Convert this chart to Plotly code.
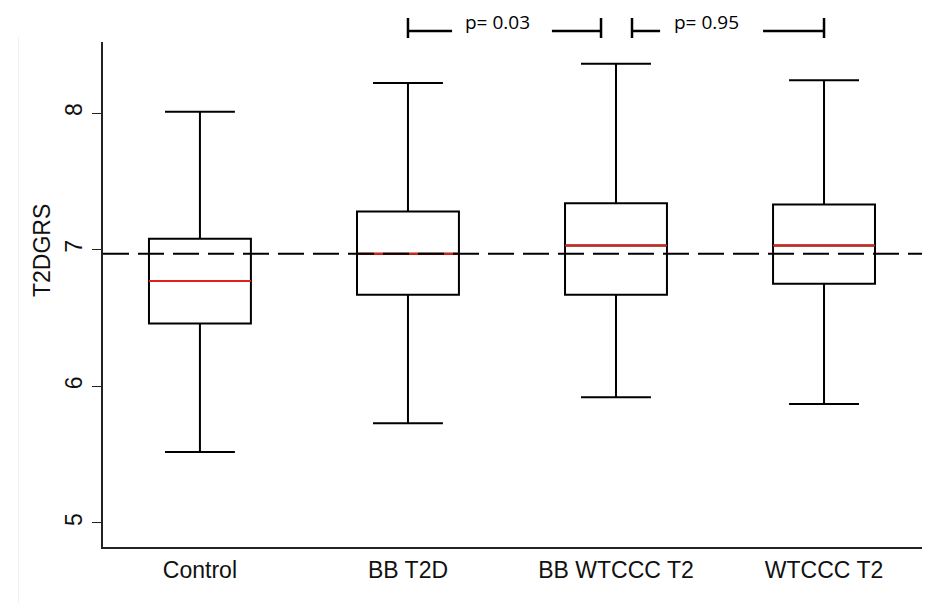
import plotly.graph_objects as go

# ---- data ----
categories = ["Control", "BB T2D", "BB WTCCC T2", "WTCCC T2"]
upper_whisker = [8.01, 8.22, 8.36, 8.24]
q3_values = [7.08, 7.28, 7.34, 7.33]
medians = [6.77, 6.97, 7.03, 7.03]
q1_values = [6.46, 6.67, 6.67, 6.75]
lower_whisker = [5.52, 5.73, 5.92, 5.87]
reference_value = 6.97

y_tick_values = [5, 6, 7, 8]
y_title = "T2DGRS"

p_labels = ["p= 0.03", "p= 0.95"]
bracket_start = [1.0, 2.077]
bracket_end = [1.928, 3.0]
gap_start = [1.212, 2.212]
gap_end = [1.692, 2.707]
label_x = [1.428, 2.433]

# ---- styling / layout constants ----
BOX_W = 0.49
FONT = "Liberation Sans, Arial, sans-serif"

fig = go.Figure()

for i, cat in enumerate(categories):
    fig.add_trace(go.Box(
        x=[i], q1=[q1_values[i]], median=[medians[i]], q3=[q3_values[i]],
        lowerfence=[lower_whisker[i]], upperfence=[upper_whisker[i]],
        name=cat, width=BOX_W, whiskerwidth=0.686,
        fillcolor="white", line=dict(color="black", width=2),
        boxpoints=False, showlegend=False, hoverinfo="skip",
    ))

# red median lines
for i in range(len(categories)):
    fig.add_trace(go.Scatter(
        x=[i - BOX_W / 2, i + BOX_W / 2], y=[medians[i], medians[i]],
        mode="lines", line=dict(color="#e0201b", width=2),
        showlegend=False, hoverinfo="skip",
    ))

shapes = []
# dashed reference line
shapes.append(dict(type="line", xref="paper", yref="y", x0=0, x1=1,
                   y0=reference_value, y1=reference_value,
                   line=dict(color="black", width=2, dash="26px,9px"),
                   layer="above"))

# comparison brackets
y_line = 1.0218
y_tick_top = 1.0475
y_tick_bot = 1.0079
for k in range(len(p_labels)):
    seg = dict(type="line", xref="x", yref="paper", line=dict(color="black", width=2.5))
    shapes.append({**seg, "x0": bracket_start[k], "x1": gap_start[k], "y0": y_line, "y1": y_line})
    shapes.append({**seg, "x0": gap_end[k], "x1": bracket_end[k], "y0": y_line, "y1": y_line})
    shapes.append({**seg, "x0": bracket_start[k], "x1": bracket_start[k], "y0": y_tick_bot, "y1": y_tick_top})
    shapes.append({**seg, "x0": bracket_end[k], "x1": bracket_end[k], "y0": y_tick_bot, "y1": y_tick_top})

# faint left border artifact
shapes.append(dict(type="line", xref="paper", yref="paper", x0=-0.103, x1=-0.103,
                   y0=1.01, y1=-0.2, line=dict(color="#eeeeee", width=1)))

annotations = []
for k in range(len(p_labels)):
    annotations.append(dict(x=label_x[k], y=1.039, xref="x", yref="paper",
                            text=p_labels[k], showarrow=False,
                            xanchor="center", yanchor="middle",
                            font=dict(family="Open Sans, Noto Sans, sans-serif", size=19, color="black")))
annotations.append(dict(x=-0.0745, y=0.588, xref="paper", yref="paper",
                        text=y_title, showarrow=False, textangle=-90,
                        xanchor="center", yanchor="middle",
                        font=dict(family=FONT, size=23, color="#111111")))

fig.update_layout(
    width=923, height=595,
    margin=dict(l=95, r=9, t=34, b=56),
    paper_bgcolor="white", plot_bgcolor="white",
    shapes=shapes, annotations=annotations,
    showlegend=False,
    xaxis=dict(
        range=[-0.466, 3.471], tickmode="array",
        tickvals=list(range(len(categories))), ticktext=categories,
        showgrid=False, zeroline=False, showline=True,
        linecolor="#222222", linewidth=1.5, ticks="",
        ticklabelstandoff=2,
        tickfont=dict(family=FONT, size=23, color="#111111"),
    ),
    yaxis=dict(
        range=[4.824, 8.52], tickmode="array", tickvals=y_tick_values,
        showgrid=False, zeroline=False, showline=True,
        linecolor="#222222", linewidth=1.5,
        ticks="outside", ticklen=9, tickwidth=1, tickcolor="#222222",
        tickangle=-90, ticklabelstandoff=1,
        tickfont=dict(family=FONT, size=23, color="#111111"),
    ),
)

fig.write_html("out.html")
